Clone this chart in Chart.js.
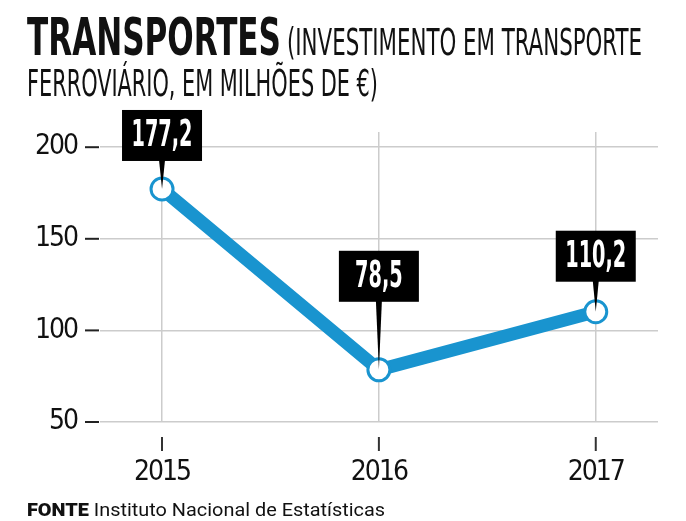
<!DOCTYPE html>
<html>
<head>
<meta charset="utf-8">
<script src="https://cdn.jsdelivr.net/npm/chart.js@4"></script>
<style>
  html, body { margin: 0; padding: 0; background: #fff; }
  #wrap { position: relative; width: 686px; height: 521px; overflow: hidden; }
  #grafico { position: absolute; left: 0; top: 0; }
  .txt { position: absolute; white-space: nowrap; line-height: 1; color: #111; transform-origin: 0 0; }
  #titulo { left: 27px; top: 7px; font: bold 52px "DejaVu Sans Condensed", sans-serif; }
  #sub1 { left: 287px; top: 21px; font: 37px "DejaVu Sans Condensed", sans-serif; }
  #sub2 { left: 27px; top: 61px; font: 38px "DejaVu Sans Condensed", sans-serif; }
  #fonte { left: 27px; top: 499px; font: 18px Roboto, sans-serif; }
  #fonte b { font-weight: 900; }
</style>
</head>
<body>
<div id="wrap">
  <canvas id="grafico" width="686" height="521"></canvas>
  <div class="txt" id="titulo">TRANSPORTES</div>
  <div class="txt" id="sub1">(INVESTIMENTO EM TRANSPORTE</div>
  <div class="txt" id="sub2">FERROVIÁRIO, EM MILHÕES DE €)</div>
  <div class="txt" id="fonte"><b>FONTE</b> Instituto Nacional de Estatísticas</div>
</div>
<script>
// dados
var anos = [2015, 2016, 2017];
var valores = [177.2, 78.5, 110.2];
var marcasY = [50, 100, 150, 200];

var azul = '#1994cf';
var fonteEstreita = '"DejaVu Sans Condensed", sans-serif';

document.addEventListener('DOMContentLoaded', f_principal);

function f_principal() {
    ajustarLargura('titulo', 254);
    ajustarLargura('sub1', 355);
    ajustarLargura('sub2', 351);
    ajustarLargura('fonte', 358);
    graficoLinha();
}

// comprime o texto na horizontal para ocupar a largura pedida
function ajustarLargura(id, largura) {
    var el = document.getElementById(id);
    var w = el.getBoundingClientRect().width;
    el.style.transform = 'scaleX(' + (largura / w) + ')';
}

function formatar(v) {
    return v.toFixed(1).replace('.', ',');
}

// tracinhos das marcas, separados da grelha; letras mais juntas nos eixos
var pluginMarcas = {
    id: 'marcas',
    beforeDraw: function (chart) {
        chart.ctx.letterSpacing = '-2px';
    },
    afterDraw: function (chart) {
        var ctx = chart.ctx;
        var area = chart.chartArea;
        var sx = chart.scales.x, sy = chart.scales.y;
        ctx.save();
        ctx.strokeStyle = '#222';
        ctx.lineWidth = 2;
        sy.ticks.forEach(function (t) {
            var py = sy.getPixelForValue(t.value);
            ctx.beginPath();
            ctx.moveTo(area.left - 15, py);
            ctx.lineTo(area.left - 1, py);
            ctx.stroke();
        });
        ctx.strokeStyle = '#333';
        sx.ticks.forEach(function (t) {
            var px = sx.getPixelForValue(t.value);
            ctx.beginPath();
            ctx.moveTo(px, area.bottom + 15);
            ctx.lineTo(px, area.bottom + 29);
            ctx.stroke();
        });
        ctx.restore();
        ctx.letterSpacing = '0px';
    }
};

// caixas pretas com o valor
var pluginRotulos = {
    id: 'rotulos',
    afterDatasetsDraw: function (chart, args, opts) {
        var ctx = chart.ctx;
        var meta = chart.getDatasetMeta(0);
        ctx.save();
        ctx.letterSpacing = '0px';
        ctx.font = 'bold 37px ' + fonteEstreita;
        var k = opts.larguraTexto / ctx.measureText('177,2').width;
        meta.data.forEach(function (pt, i) {
            var cx = pt.x, cy = pt.y;
            var baixo = cy - opts.elevacao[i];
            var topo = baixo - opts.altura;
            // ponteiro
            ctx.fillStyle = '#000';
            ctx.beginPath();
            ctx.moveTo(cx - 3, baixo - 1);
            ctx.lineTo(cx + 3, baixo - 1);
            ctx.lineTo(cx, cy);
            ctx.closePath();
            ctx.fill();
            ctx.fillRect(cx - opts.largura / 2, topo, opts.largura, opts.altura);
            // texto
            ctx.fillStyle = '#fff';
            ctx.textAlign = 'center';
            ctx.textBaseline = 'alphabetic';
            ctx.save();
            ctx.translate(cx, baixo - 15);
            ctx.scale(k, 1);
            ctx.fillText(formatar(chart.data.datasets[0].data[i].y), 0, 0);
            ctx.restore();
        });
        ctx.restore();
    }
};

function graficoLinha() {
    var pontos = anos.map(function (a, i) { return { x: a, y: valores[i] }; });

    var data = {
        datasets: [{
            data: pontos,
            borderColor: azul,
            borderWidth: 13,
            pointRadius: 11,
            pointHoverRadius: 11,
            pointBorderWidth: 3,
            pointBackgroundColor: '#fff',
            pointBorderColor: azul,
            tension: 0
        }]
    };

    var options = {
        responsive: false,
        animation: false,
        layout: { padding: { top: 132, right: 28, left: 0, bottom: 0 } },
        plugins: {
            legend: { display: false },
            tooltip: { enabled: false },
            rotulos: { largura: 80, altura: 51, larguraTexto: 61, elevacao: [28, 68, 30] }
        },
        scales: {
            x: {
                type: 'linear',
                min: 2014.714,
                max: 2017.287,
                afterBuildTicks: function (s) { s.ticks = anos.map(function (a) { return { value: a }; }); },
                afterFit: function (s) { s.height = 99; },
                border: { display: false },
                grid: { color: '#cccccc', lineWidth: 1.5, drawTicks: false },
                ticks: {
                    padding: 34,
                    color: '#111',
                    font: { family: fonteEstreita, size: 28 },
                    callback: function (v) { return String(v); }
                }
            },
            y: {
                min: 50,
                max: 208.3,
                afterBuildTicks: function (s) { s.ticks = marcasY.map(function (m) { return { value: m }; }); },
                afterFit: function (s) { s.width = 100; },
                border: { display: false },
                grid: { color: '#cccccc', lineWidth: 1.5, drawTicks: false },
                ticks: {
                    padding: 23,
                    color: '#111',
                    font: { family: fonteEstreita, size: 28 }
                }
            }
        }
    };

    var ctx = document.getElementById('grafico').getContext('2d');
    var grafico = new Chart(ctx, {
        type: 'line',
        data: data,
        options: options,
        plugins: [pluginMarcas, pluginRotulos]
    });
}
</script>
</body>
</html>
